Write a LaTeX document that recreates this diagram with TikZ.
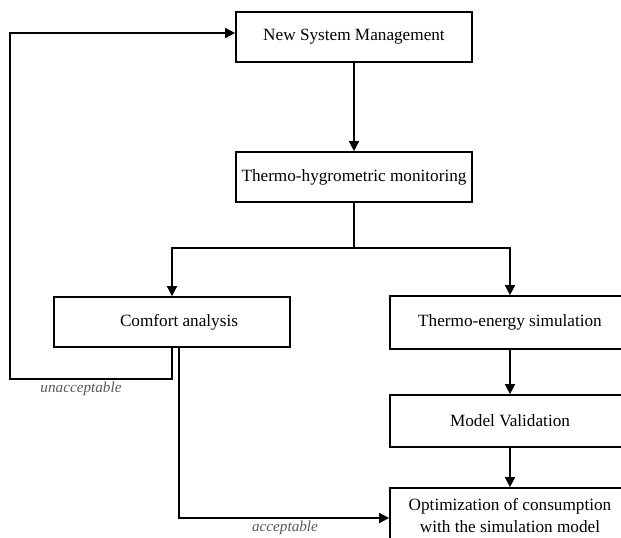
\documentclass[tikz,border=0pt]{standalone}
\usepackage{fontspec}
\setmainfont{Liberation Serif}
\usetikzlibrary{arrows.meta,calc}
\begin{document}
\begin{tikzpicture}[x=1pt,y=-1pt,
  box/.style={draw=black,line width=1.7pt,rectangle,minimum width=236pt,minimum height=50pt,inner sep=2pt,align=center,font=\fontsize{17.2}{22}\selectfont},
  arr/.style={line width=1.6pt,-{Triangle[length=10pt,width=10pt]}},
  ln/.style={line width=1.6pt},
  lbl/.style={font=\fontsize{15.2}{18}\selectfont\itshape,text=black!65}]
\useasboundingbox (0,0) rectangle (621,538);
\node[box] (nsm) at (354,37) {New System Management};
\node[box] (thm) at (354,177) {Thermo-hygrometric monitoring};
\node[box] (comfort) at (172,322) {\hspace*{14pt}Comfort analysis};
\node[box,minimum width=240pt,minimum height=53pt] (te) at (510,322.5) {Thermo-energy simulation};
\node[box,minimum width=240pt,minimum height=52pt] (mv) at (510,421) {Model Validation};
\node[box,minimum width=240pt,minimum height=56pt] (opt) at (510,516) {Optimization of consumption\\with the simulation model};
\coordinate (split) at (354,248);
\coordinate (fbcorner) at (10,379);
\draw[arr] (nsm.south) -- (thm.north);
\draw[ln] (thm.south) -- (split);
\draw[arr] (split) -| (comfort.north);
\draw[arr] (split) -| (te.north);
\draw[arr] (te.south) -- (mv.north);
\draw[arr] (mv.south) -- (opt.north);
\draw[arr] (comfort.south) |- (fbcorner) |- ([yshift=4pt]nsm.west);
\draw[arr] ([xshift=7pt]comfort.south) |- ([yshift=-2pt]opt.west);
\node[lbl] (unacc) at (81,389) {unacceptable};
\node[lbl] (acc) at (285,528) {acceptable};
\end{tikzpicture}
\end{document}
